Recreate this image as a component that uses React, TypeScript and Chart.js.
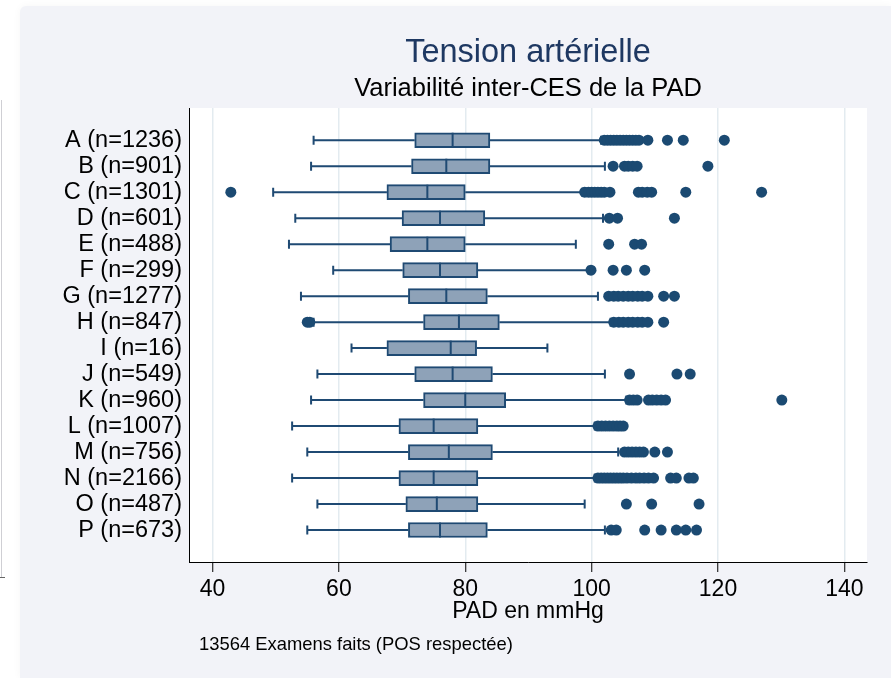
import { useEffect, useRef } from "react";
import { Chart, registerables } from "chart.js";

Chart.register(...registerables);

const FONT = '"Liberation Sans", Arial, Helvetica, sans-serif';

const categories = [
  "A (n=1236)", "B (n=901)", "C (n=1301)", "D (n=601)", "E (n=488)", "F (n=299)",
  "G (n=1277)", "H (n=847)", "I (n=16)", "J (n=549)", "K (n=960)", "L (n=1007)",
  "M (n=756)", "N (n=2166)", "O (n=487)", "P (n=673)",
];

const whiskerLow = [56.0, 55.6, 49.6, 53.1, 52.1, 59.1, 54.0, 56.0, 62.0, 56.6, 55.6, 52.6, 55.0, 52.6, 56.6, 55.0];
const q1 = [72.0, 71.5, 67.6, 70.0, 68.1, 70.1, 71.0, 73.4, 67.6, 72.0, 73.4, 69.5, 71.0, 69.5, 70.6, 71.0];
const median = [78.0, 77.0, 74.0, 76.0, 74.0, 76.0, 77.0, 79.0, 77.7, 78.0, 80.0, 75.0, 77.4, 75.0, 75.5, 76.0];
const q3 = [83.9, 83.9, 80.0, 83.1, 80.0, 82.0, 83.5, 85.4, 81.8, 84.3, 86.4, 82.0, 84.3, 82.0, 82.0, 83.5];
const whiskerHigh = [101.5, 102.1, 98.5, 101.8, 97.5, 99.5, 101.0, 103.0, 93.0, 102.1, 105.5, 100.5, 104.2, 100.5, 98.9, 102.1];

const outliers: number[][] = [
  [102, 102.5, 103, 103.5, 104, 104.5, 105, 105.5, 106, 106.5, 107, 107.5, 108.9, 112, 114.5, 121],
  [103.4, 105.2, 105.8, 106.5, 107.2, 118.4],
  [42.9, 98.9, 99.5, 100, 100.5, 101, 101.5, 102, 102.9, 107.4, 108, 108.8, 109.5, 114.9, 126.9],
  [102.8, 104.1, 113.1],
  [102.7, 106.8, 107.9],
  [99.9, 103.4, 105.5, 108.4],
  [102.7, 103.5, 104.2, 105, 105.8, 106.5, 107.3, 108, 108.9, 111.4, 113.1],
  [55.0, 55.4, 103.5, 104.3, 105, 105.8, 106.5, 107.3, 108, 108.9, 111.4],
  [],
  [106.0, 113.5, 115.6],
  [106.0, 106.6, 107.2, 109, 109.6, 110.3, 111, 111.7, 130.1],
  [101.0, 101.6, 102.2, 102.8, 103.4, 104, 104.5, 105.0],
  [105.2, 105.8, 106.4, 107, 107.6, 108.2, 110.0, 112.0],
  [101, 101.5, 102, 102.5, 103, 103.5, 104, 104.5, 105, 105.6, 106.3, 107, 107.6, 108.3, 109, 109.8, 112.5, 113.4, 115.4, 116.1],
  [105.5, 109.5, 117.0],
  [103.1, 103.9, 108.4, 111.0, 113.4, 114.9, 116.6],
];

const xTicks = [40, 60, 80, 100, 120, 140];

const titleText = "Tension artérielle";
const subtitleText = "Variabilité inter-CES de la PAD";
const xTitle = "PAD en mmHg";
const noteText = "13564 Examens faits (POS respectée)";

const BOX_FILL = "#8ea2b8";
const BOX_LINE = "#1f4a73";
const DOT = "#1b4a72";

export default function App() {
  const ref = useRef<HTMLCanvasElement>(null);

  useEffect(() => {
    const canvas = ref.current;
    if (!canvas) return;

    const boxParts = {
      id: "boxParts",
      beforeDraw(chart: any) {
        const { ctx, chartArea: a } = chart;
        ctx.save();
        ctx.fillStyle = "#ffffff";
        ctx.fillRect(a.left, a.top, a.right - a.left, a.bottom - a.top);
        ctx.restore();
      },
      beforeDatasetsDraw(chart: any) {
        const { ctx } = chart;
        const xs = chart.scales.x;
        const ys = chart.scales.y;
        ctx.save();
        ctx.strokeStyle = BOX_LINE;
        ctx.lineWidth = 2;
        categories.forEach((_, i) => {
          const y = ys.getPixelForValue(i);
          const lo = xs.getPixelForValue(whiskerLow[i]);
          const a = xs.getPixelForValue(q1[i]);
          const b = xs.getPixelForValue(q3[i]);
          const hi = xs.getPixelForValue(whiskerHigh[i]);
          ctx.beginPath();
          ctx.moveTo(lo, y);
          ctx.lineTo(a, y);
          ctx.moveTo(b, y);
          ctx.lineTo(hi, y);
          ctx.moveTo(lo, y - 4.5);
          ctx.lineTo(lo, y + 4.5);
          ctx.moveTo(hi, y - 4.5);
          ctx.lineTo(hi, y + 4.5);
          ctx.stroke();
        });
        ctx.restore();
      },
      afterDatasetsDraw(chart: any) {
        const { ctx } = chart;
        const xs = chart.scales.x;
        const ys = chart.scales.y;
        ctx.save();
        ctx.strokeStyle = BOX_LINE;
        ctx.lineWidth = 2;
        categories.forEach((_, i) => {
          const y = ys.getPixelForValue(i);
          const m = xs.getPixelForValue(median[i]);
          ctx.beginPath();
          ctx.moveTo(m, y - 7.5);
          ctx.lineTo(m, y + 7.5);
          ctx.stroke();
        });
        ctx.restore();
      },
      afterDraw(chart: any) {
        const { ctx } = chart;
        ctx.save();
        ctx.fillStyle = "#000";
        ctx.font = `18.4px ${FONT}`;
        ctx.textBaseline = "alphabetic";
        ctx.textAlign = "left";
        ctx.fillText(noteText, 199, 650);
        ctx.restore();
      },
    };

    const chart = new Chart(canvas, {
      type: "scatter",
      data: {
        datasets: [
          {
            type: "scatter",
            data: outliers.flatMap((row, i) => row.map((v) => ({ x: v, y: i }))),
            backgroundColor: DOT,
            borderColor: DOT,
            borderWidth: 0,
            pointRadius: 5.5,
            order: 0,
          } as any,
          {
            type: "bar",
            indexAxis: "y",
            data: categories.map((_, i) => ({ x: [q1[i], q3[i]], y: i })),
            backgroundColor: BOX_FILL,
            borderColor: BOX_LINE,
            borderWidth: 2,
            borderSkipped: false,
            barThickness: 15,
            order: 1,
          } as any,
        ],
      },
      options: {
        animation: false,
        responsive: false,
        events: [],
        layout: { padding: { left: 0, right: 24, top: 0, bottom: 52.9 } },
        plugins: {
          legend: { display: false },
          tooltip: { enabled: false },
          title: {
            display: true,
            text: titleText,
            color: "#1e3862",
            font: { family: FONT, size: 32.5, weight: "normal" },
            padding: { top: 33.24, bottom: 0 },
            fullSize: false,
          },
          subtitle: {
            display: true,
            text: subtitleText,
            color: "#000",
            font: { family: FONT, size: 25.5, weight: "normal" },
            padding: { top: 1.62, bottom: 3.54 },
            fullSize: false,
          },
        },
        scales: {
          x: {
            type: "linear",
            position: "bottom",
            min: 36.28,
            max: 143.58,
            beginAtZero: false,
            afterBuildTicks: (s: any) => {
              s.ticks = xTicks.map((v) => ({ value: v }));
            },
            afterFit: (s: any) => {
              s.height = 63.1;
            },
            ticks: {
              color: "#000",
              font: { family: FONT, size: 23 },
              padding: 4,
              maxRotation: 0,
              autoSkip: false,
            },
            grid: {
              color: "#e3ebf0",
              lineWidth: 1.5,
              drawTicks: true,
              tickLength: 10,
              tickColor: "#000",
              tickWidth: 1,
            },
            border: { display: true, color: "#000", width: 1 },
            title: {
              display: true,
              text: xTitle,
              color: "#000",
              font: { family: FONT, size: 23 },
              padding: { top: 0, bottom: 0 },
            },
          },
          y: {
            type: "linear",
            position: "left",
            reverse: true,
            min: -1.24,
            max: 16.23,
            offset: false,
            afterBuildTicks: (s: any) => {
              s.ticks = categories.map((_, i) => ({ value: i }));
            },
            afterFit: (s: any) => {
              s.width = 189;
            },
            ticks: {
              color: "#000",
              font: { family: FONT, size: 23.5 },
              padding: 7,
              autoSkip: false,
              callback: (v: any) => categories[v as number] ?? "",
            },
            grid: { display: true, drawOnChartArea: false, drawTicks: false, offset: false },
            border: { display: true, color: "#000", width: 1 },
          },
        },
      } as any,
      plugins: [boxParts],
    });

    return () => chart.destroy();
  }, []);

  return (
    <div style={{ position: "fixed", left: 0, top: 0, width: 891, height: 678, background: "#fff", overflow: "hidden" }}>
      <div
        style={{
          position: "absolute",
          left: 20,
          top: 6,
          right: 0,
          bottom: 0,
          background: "#f2f3f8",
          borderTopLeftRadius: 6,
          boxShadow: "0 0 8px rgba(0,0,0,0.04)",
        }}
      />
      <div style={{ position: "absolute", left: 1, top: 100, width: 1, height: 477, background: "#cfcfd4" }} />
      <div style={{ position: "absolute", left: 0, top: 577, width: 5, height: 1, background: "#666" }} />
      <canvas ref={ref} width={891} height={678} style={{ position: "absolute", left: 0, top: 0, width: 891, height: 678 }} />
    </div>
  );
}
